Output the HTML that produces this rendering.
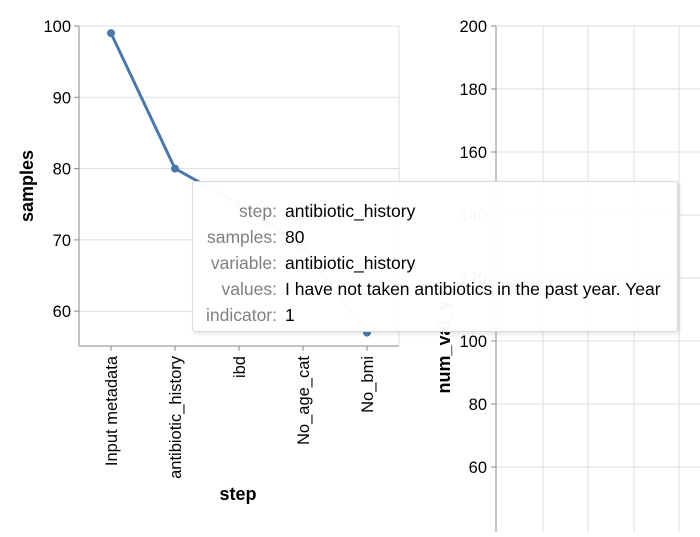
<!DOCTYPE html>
<html><head><meta charset="utf-8"><style>
body{margin:0;background:#fff;width:700px;height:532px;overflow:hidden;position:relative;font-family:"Liberation Sans",Arial,sans-serif}
svg text{font-family:"Liberation Sans",Arial,sans-serif}
#tip{position:absolute;left:192px;top:181px;width:486px;height:151px;background:rgba(255,255,255,0.97);border:1px solid #d9d9d9;border-radius:3px;box-shadow:2px 2px 4px rgba(0,0,0,0.1);font-size:17.5px;box-sizing:border-box}
#tip table{border-collapse:collapse;margin-top:16px}
#tip td{padding:0 0 0 0;line-height:26px;height:26px}
#tip td.k{color:#808080;text-align:right;width:84px;padding-right:8px}
#tip td.v{color:#000;white-space:nowrap}
</style></head><body>
<svg id="chart" width="700" height="532"></svg>
<div id="tip"><table>
<tr><td class="k">step:</td><td class="v">antibiotic_history</td></tr>
<tr><td class="k">samples:</td><td class="v">80</td></tr>
<tr><td class="k">variable:</td><td class="v">antibiotic_history</td></tr>
<tr><td class="k">values:</td><td class="v">I have not taken antibiotics in the past year. Year</td></tr>
<tr><td class="k">indicator:</td><td class="v">1</td></tr>
</table></div>
<script>
const categories=["Input metadata","antibiotic_history","ibd","No_age_cat","No_bmi"];
const samples=[99,80,75,69,57];
const leftTicks=[60,70,80,90,100];
const rightTicks=[60,80,100,120,140,160,180,200];
const NS="http://www.w3.org/2000/svg";
const svg=document.getElementById("chart");
function mk(tag,attrs,parent){const e=document.createElementNS(NS,tag);for(const k in attrs)e.setAttribute(k,attrs[k]);(parent||svg).appendChild(e);return e;}
const yL=v=>26+(100-v)*7.13;
const xL=i=>111+i*64;
leftTicks.forEach(t=>{const g=mk("line",{x1:79,x2:399,y1:yL(t),y2:yL(t),stroke:"#ddd"});

});
const bl=mk("line",{x1:399,x2:399,y1:26,y2:346,stroke:"#ddd"});


const ya=mk("line",{x1:79,x2:79,y1:26,y2:346,stroke:"#888"});


leftTicks.forEach(t=>{mk("line",{x1:74,x2:79,y1:yL(t),y2:yL(t),stroke:"#888"});
const tx=mk("text",{x:71,y:yL(t)+6,"text-anchor":"end","font-size":"16.5",fill:"#000"});tx.textContent=t;

});
const yt=mk("text",{x:0,y:0,transform:"translate(33,186) rotate(-90)","text-anchor":"middle","font-size":"18","font-weight":"bold"});yt.textContent="samples";


const xa=mk("line",{x1:79,x2:399,y1:346,y2:346,stroke:"#888"});


categories.forEach((c,i)=>{mk("line",{x1:xL(i),x2:xL(i),y1:346,y2:351,stroke:"#888"});
const tx=mk("text",{x:0,y:0,transform:`translate(${xL(i)+6},356) rotate(-90)`,"text-anchor":"end","font-size":"16.5"});tx.textContent=c;

});
const xt=mk("text",{x:238,y:500,"text-anchor":"middle","font-size":"18","font-weight":"bold"});xt.textContent="step";


const ln=mk("polyline",{points:samples.map((v,i)=>xL(i)+","+yL(v)).join(" "),fill:"none",stroke:"#4c78a8","stroke-width":"3"});


samples.forEach((v,i)=>{const p=mk("circle",{cx:xL(i),cy:yL(v),r:4,fill:"#4c78a8"});

});
const yR=v=>26+(200-v)*3.15;
const gx=[543,588,634,679];
gx.forEach(x=>{const g=mk("line",{x1:x,x2:x,y1:26,y2:532,stroke:"#ddd"});

});
rightTicks.forEach(t=>{const g=mk("line",{x1:496,x2:700,y1:yR(t),y2:yR(t),stroke:"#ddd"});


mk("line",{x1:491,x2:496,y1:yR(t),y2:yR(t),stroke:"#888"});
const tx=mk("text",{x:487,y:yR(t)+6,"text-anchor":"end","font-size":"16.5"});tx.textContent=t;

});
const ra=mk("line",{x1:496,x2:496,y1:26,y2:532,stroke:"#888"});


const rt=mk("text",{x:0,y:0,transform:"translate(450,347) rotate(-90)","text-anchor":"middle","font-size":"18","font-weight":"bold"});rt.textContent="num_val_y";


</script>
</body></html>
